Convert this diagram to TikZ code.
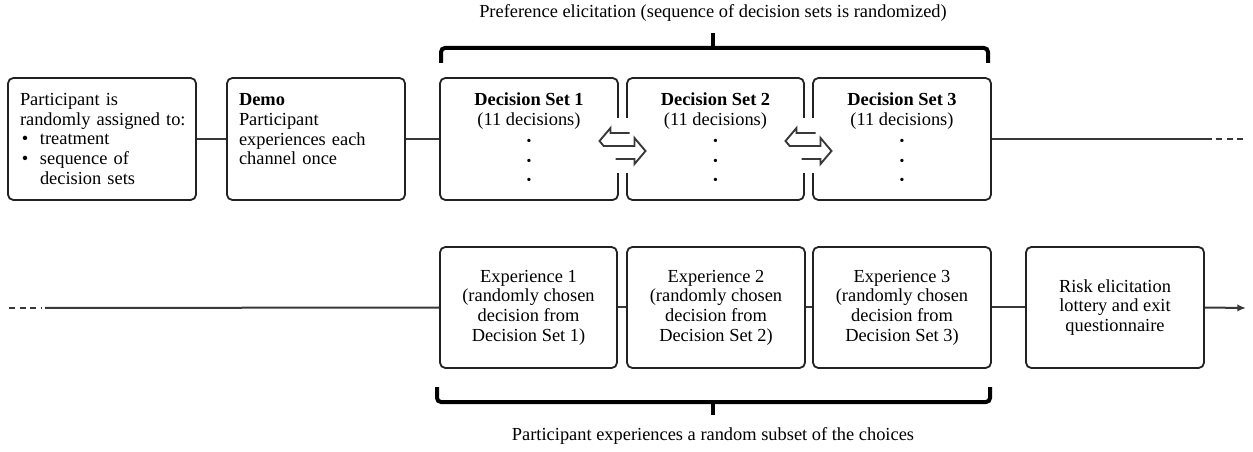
\documentclass[tikz,border=0pt]{standalone}
\usepackage{fontspec}
\setmainfont{Liberation Serif}
\usetikzlibrary{arrows.meta}

\definecolor{edge}{HTML}{222222}
\definecolor{wire}{HTML}{383838}

\newcommand{\boxfont}{\fontsize{13.8}{14.8}\selectfont}
\newcommand{\dotmark}{\scalebox{0.75}{\textbullet}}
\newcommand{\itemmark}{\hspace*{1.5pt}\makebox[13.5pt][l]{\textbullet}}

\tikzset{
  stage/.style={draw=edge, line width=1.35pt, rounded corners=4pt, fill=white,
    minimum width=133.5pt, minimum height=91.5pt, inner sep=0pt,
    align=center, font=\boxfont},
  leftstage/.style={stage, align=left, inner xsep=9pt},
  lowstage/.style={stage, minimum height=90.75pt},
  wire/.style={draw=wire, line width=1.5pt},
  dashwire/.style={wire, dash pattern=on 4.5pt off 3.4pt},
  bracketline/.style={draw=black, line width=3pt, rounded corners=3pt},
  caption/.style={font=\boxfont, inner sep=0pt},
  swaparrow/.pic={
    % white cover across the two neighbouring box edges
    \fill[white] (-7,-28) rectangle (7,27);
    % outlined left arrow on top, right arrow below
    \draw[draw=wire, line width=1.4pt, fill=white, line join=miter]
      (7,-13) -- (-12,-13) -- (-12,-18) -- (-23,-5) -- (-18.8,0)
      -- (12,0) -- (12,-8) -- (23,5) -- (12,18) -- (12,13) -- (-7,13);
  }
}

\begin{document}
\begin{tikzpicture}[x=0.75pt, y=-0.75pt]
  \useasboundingbox (0,0) rectangle (1253,452);

  % ---- top row: assignment, demo, decision sets ----
  \node[leftstage, text width=123pt] (assign) at (102,139)
    {Participant is\\\mbox{randomly assigned to:}\\\itemmark treatment\\\itemmark sequence of\\\hspace*{15pt}decision sets};
  \node[leftstage, text width=115.5pt] (demo) at (316,139)
    {\textbf{Demo}\\Participant\\experiences each\\channel once\\\mbox{}};
  \node[stage] (ds1) at (529,139)
    {\textbf{Decision Set 1}\\(11 decisions)\\\dotmark\\\dotmark\\\dotmark};
  \node[stage, minimum width=132.75pt] (ds2) at (715.5,139)
    {\textbf{Decision Set 2}\\(11 decisions)\\\dotmark\\\dotmark\\\dotmark};
  \node[stage] (ds3) at (902,139)
    {\textbf{Decision Set 3}\\(11 decisions)\\\dotmark\\\dotmark\\\dotmark};

  \coordinate (topsolid) at (1212,139);
  \coordinate (topdash) at (1216,139);
  \coordinate (topend) at (1247,139);

  \draw[wire] (assign.east) -- (demo.west);
  \draw[wire] (demo.east) -- (ds1.west);
  \draw[wire] (ds3.east) -- (topsolid);
  \draw[dashwire] (topdash) -- (topend);

  \pic at (622.5,146) {swaparrow};
  \pic at (808.5,146) {swaparrow};

  % ---- bottom row: experiences and exit ----
  \node[lowstage, minimum width=132.75pt] (ex1) at (528.5,307.5)
    {Experience 1\\(randomly chosen\\decision from\\Decision Set 1)};
  \node[lowstage] (ex2) at (716,307.5)
    {Experience 2\\(randomly chosen\\decision from\\Decision Set 2)};
  \node[lowstage] (ex3) at (902,307.5)
    {Experience 3\\(randomly chosen\\decision from\\Decision Set 3)};
  \node[lowstage] (risk) at (1115,307.5)
    {Risk elicitation\\lottery and exit\\questionnaire};

  \coordinate (botstart) at (9,308);
  \coordinate (botdash) at (41,308);
  \coordinate (botsolid) at (45,308);
  \coordinate (botend) at (1246,308);

  \draw[dashwire] (botstart) -- (botdash);
  \draw[wire] (botsolid) -- (ex1.west);
  \draw[wire] (ex1.east) -- (ex2.west);
  \draw[wire] (ex2.east) -- (ex3.west);
  \draw[wire] (ex3.east) -- (risk.west);
  \draw[wire, -{Latex[length=6.5pt, width=5.5pt]}] (risk.east) -- (botend);

  % ---- brackets and their captions ----
  \coordinate (tl) at (441,63);
  \coordinate (tr) at (988,63);
  \coordinate (tmid) at (713,48);
  \coordinate (ttip) at (713,33);
  \draw[bracketline] (tl) -- (441,48) -- (988,48) -- (tr);
  \draw[draw=black, line width=3pt] (tmid) -- (ttip);
  \node[caption] (toplabel) at (713,13)
    {Preference elicitation (sequence of decision sets is randomized)};

  \coordinate (bl) at (437,387);
  \coordinate (br) at (990,387);
  \coordinate (bmid) at (713,402);
  \coordinate (btip) at (713,415);
  \draw[bracketline] (bl) -- (437,402) -- (990,402) -- (br);
  \draw[draw=black, line width=3pt] (bmid) -- (btip);
  \node[caption] (botlabel) at (713,436)
    {Participant experiences a random subset of the choices};
\end{tikzpicture}
\end{document}
